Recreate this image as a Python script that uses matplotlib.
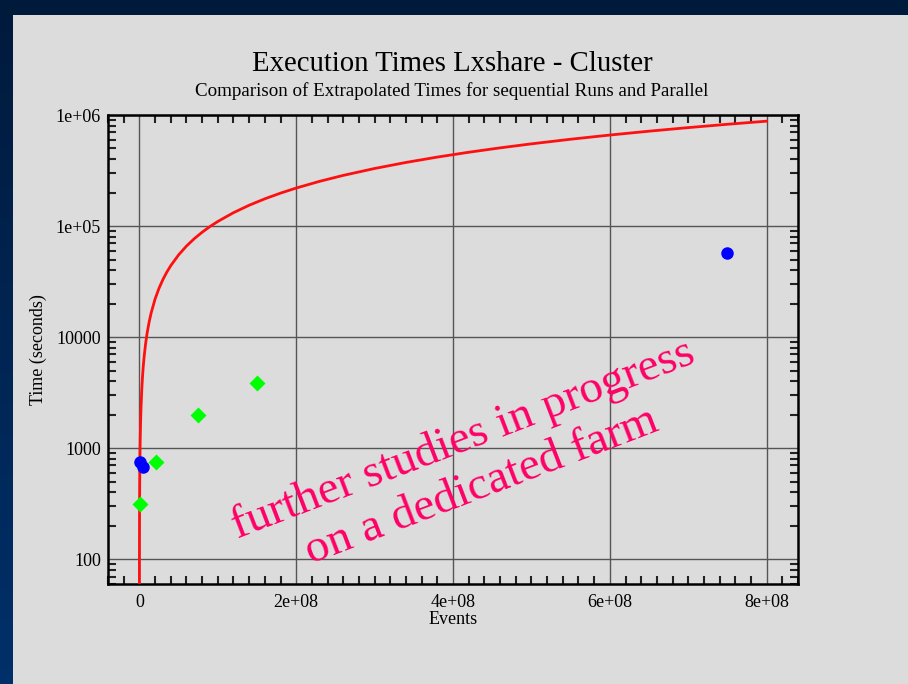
import numpy as np
import matplotlib.pyplot as plt
from matplotlib.patches import Rectangle
from matplotlib.colors import LinearSegmentedColormap
from matplotlib.ticker import MultipleLocator, LogLocator, NullFormatter

plt.rcParams['font.family'] = ['Liberation Serif', 'DejaVu Serif']

# sequential extrapolation
seq_events = [0, 2e4, 5e4, 1e5, 2e5, 4e5, 7e5, 1e6, 1.5e6, 2e6, 3e6, 4e6, 5e6, 6e6,
              8e6, 1e7, 1.25e7, 1.5e7, 2e7, 2.5e7, 3e7, 3.5e7, 4e7, 5e7, 6e7, 7e7,
              8e7, 9e7, 1e8, 1.2e8, 1.4e8, 1.6e8, 1.8e8, 2e8, 2.3e8, 2.6e8, 3e8,
              3.4e8, 3.8e8, 4.2e8, 4.6e8, 5e8, 5.5e8, 6e8, 6.5e8, 7e8, 7.5e8, 8e8]
seq_times = [0.1, 22, 55, 110, 220, 440, 770, 1100, 1650, 2200, 3300, 4400, 5500, 6600,
             8800, 1.1e4, 1.375e4, 1.65e4, 2.2e4, 2.75e4, 3.3e4, 3.85e4, 4.4e4, 5.5e4,
             6.6e4, 7.7e4, 8.8e4, 9.9e4, 1.1e5, 1.32e5, 1.54e5, 1.76e5, 1.98e5, 2.2e5,
             2.53e5, 2.86e5, 3.3e5, 3.74e5, 4.18e5, 4.62e5, 5.06e5, 5.5e5, 6.05e5,
             6.6e5, 7.15e5, 7.7e5, 8.25e5, 8.8e5]

# measured points
blue_events = [6e5, 4.7e6, 7.5e8]
blue_times = [750, 675, 5.7e4]
green_events = [1e6, 2.1e7, 7.5e7, 1.5e8]
green_times = [315, 745, 1980, 3840]

ytick_vals = [100, 1000, 10000, 1e5, 1e6]
ytick_labels = ["100", "1000", "10000", "1e+05", "1e+06"]
xtick_vals = [0, 2e8, 4e8, 6e8, 8e8]
xtick_labels = ["0", "2e+08", "4e+08", "6e+08", "8e+08"]

W, H = 908, 684
fig = plt.figure(figsize=(W/100, H/100), dpi=100)

# slide background: dark blue gradient + grey panel
bg = fig.add_axes([0, 0, 1, 1], zorder=-10)
grad = np.linspace(0, 1, 256).reshape(-1, 1)
cmap = LinearSegmentedColormap.from_list("bg", ["#001a3c", "#00306a"])
bg.imshow(grad, aspect='auto', cmap=cmap, extent=[0, 1, 0, 1], origin='upper')
bg.add_patch(Rectangle((13/W, 0), 1, 1 - 15/H, color="#dcdcdc", lw=0))
bg.set_xlim(0, 1)
bg.set_ylim(0, 1)
bg.axis('off')

ax = fig.add_axes([108/W, 1 - 584/H, 690/W, 469/H])
ax.set_facecolor("#dcdcdc")

ax.plot(seq_events, seq_times, color="#ff1010", lw=2, zorder=3)
ax.plot(blue_events, blue_times, 'o', color="#0000ff", ms=9, mec='none', zorder=4)
ax.plot(green_events, green_times, 'D', color="#00ff00", ms=8, mec='none', zorder=4)

ax.set_yscale('log')
ax.set_xlim(-4e7, 8.4e8)
ax.set_ylim(60, 1e6)

ax.set_xticks(xtick_vals)
ax.set_xticklabels(xtick_labels)
ax.set_yticks(ytick_vals)
ax.set_yticklabels(ytick_labels)
ax.xaxis.set_minor_locator(MultipleLocator(2e7))
ax.yaxis.set_minor_locator(LogLocator(base=10, subs=np.arange(2, 10)))
ax.yaxis.set_minor_formatter(NullFormatter())

ax.tick_params(which='both', direction='in', top=True, right=True,
               labelsize=13, colors='black')
ax.tick_params(which='major', length=0)
ax.tick_params(axis='x', which='major', pad=7)
ax.tick_params(axis='y', which='major', pad=5)
ax.tick_params(which='minor', length=6, width=1.5, color='#222222')

ax.grid(True, which='major', color='#555555', lw=1)
for s in ax.spines.values():
    s.set_linewidth(1.8)

ax.set_xlabel("Events", fontsize=13, labelpad=0)
ax.set_ylabel("Time (seconds)", fontsize=13, labelpad=6)

fig.text(452/W, 1 - 64/H, "Execution Times Lxshare - Cluster", ha='center', va='center',
         fontsize=20.7)
fig.text(452/W, 1 - 91/H, "Comparison of Extrapolated Times for sequential Runs and Parallel",
         ha='center', va='center', fontsize=13.7)

ax.text(0.528, 0.259, "further studies in progress\non a dedicated farm",
        transform=ax.transAxes, rotation=21, rotation_mode='anchor',
        ha='center', va='center', multialignment='center',
        fontsize=34, color="#ff0066", linespacing=1.22, zorder=5)

fig.savefig("out.png", dpi=100)
